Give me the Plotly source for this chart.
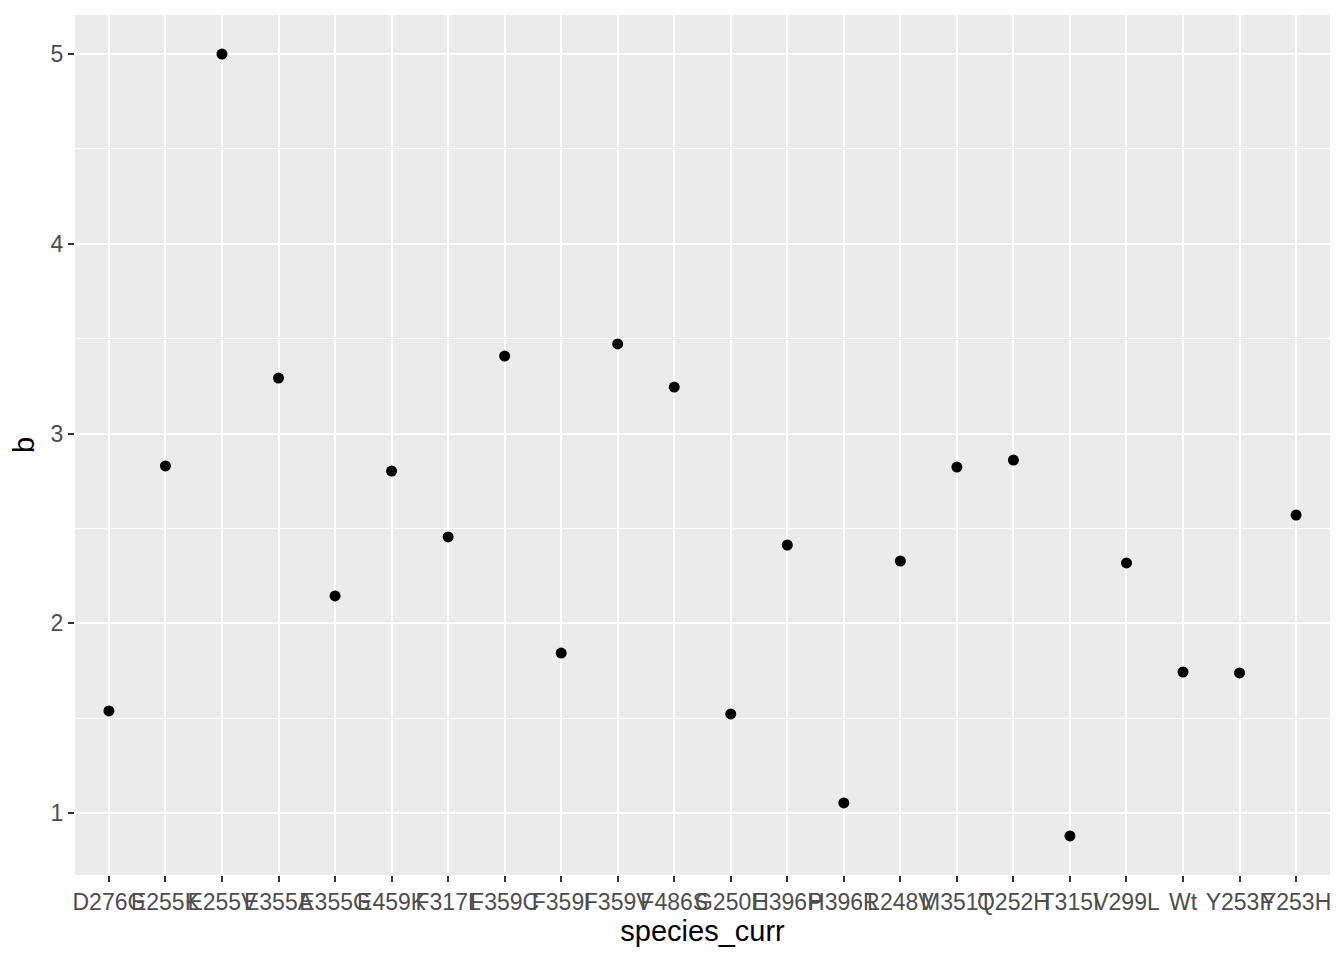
import plotly.graph_objects as go

species = ["D276G", "E255K", "E255V", "E355A", "E355G", "E459K", "F317L", "F359C",
           "F359I", "F359V", "F486S", "G250E", "H396P", "H396R", "L248V", "M351T",
           "Q252H", "T315I", "V299L", "Wt", "Y253F", "Y253H"]
b_values = [1.538, 2.829, 5.0, 3.292, 2.144, 2.802, 2.455, 3.408,
            1.843, 3.472, 3.245, 1.522, 2.412, 1.053, 2.328, 2.823,
            2.860, 0.879, 2.318, 1.743, 1.738, 2.570]

fig = go.Figure(go.Scatter(
    x=species, y=b_values, mode="markers",
    marker=dict(color="black", size=11, line=dict(width=0)),
    showlegend=False,
))

n = len(species)
fig.update_layout(
    width=1344, height=960,
    paper_bgcolor="white", plot_bgcolor="#EBEBEB",
    margin=dict(l=67, r=22, t=7, b=93, autoexpand=False),
    font=dict(family="Liberation Sans, Arial, sans-serif"),
    xaxis=dict(
        type="category", categoryorder="array", categoryarray=species,
        range=[-0.6, n - 1 + 0.6],
        showgrid=True, gridcolor="white", gridwidth=2.2,
        zeroline=False, showline=False,
        ticks="outside", ticklen=6, tickwidth=2.2, tickcolor="#333333",
        tickfont=dict(size=23, color="#4D4D4D"),
        tickangle=0,
        title=dict(text="species_curr", font=dict(size=29, color="black"), standoff=6),
    ),
    yaxis=dict(
        range=[0.673, 5.206],
        tick0=1, dtick=1,
        showgrid=True, gridcolor="white", gridwidth=2.2,
        zeroline=False, showline=False,
        ticks="outside", ticklen=6, tickwidth=2.2, tickcolor="#333333",
        tickfont=dict(size=23, color="#4D4D4D"),
        minor=dict(tick0=0.5, dtick=1, showgrid=True, gridcolor="white", gridwidth=1.1, ticks=""),
        title=dict(text="b", font=dict(size=29, color="black"), standoff=8),
    ),
)

fig.write_html("out.html")
